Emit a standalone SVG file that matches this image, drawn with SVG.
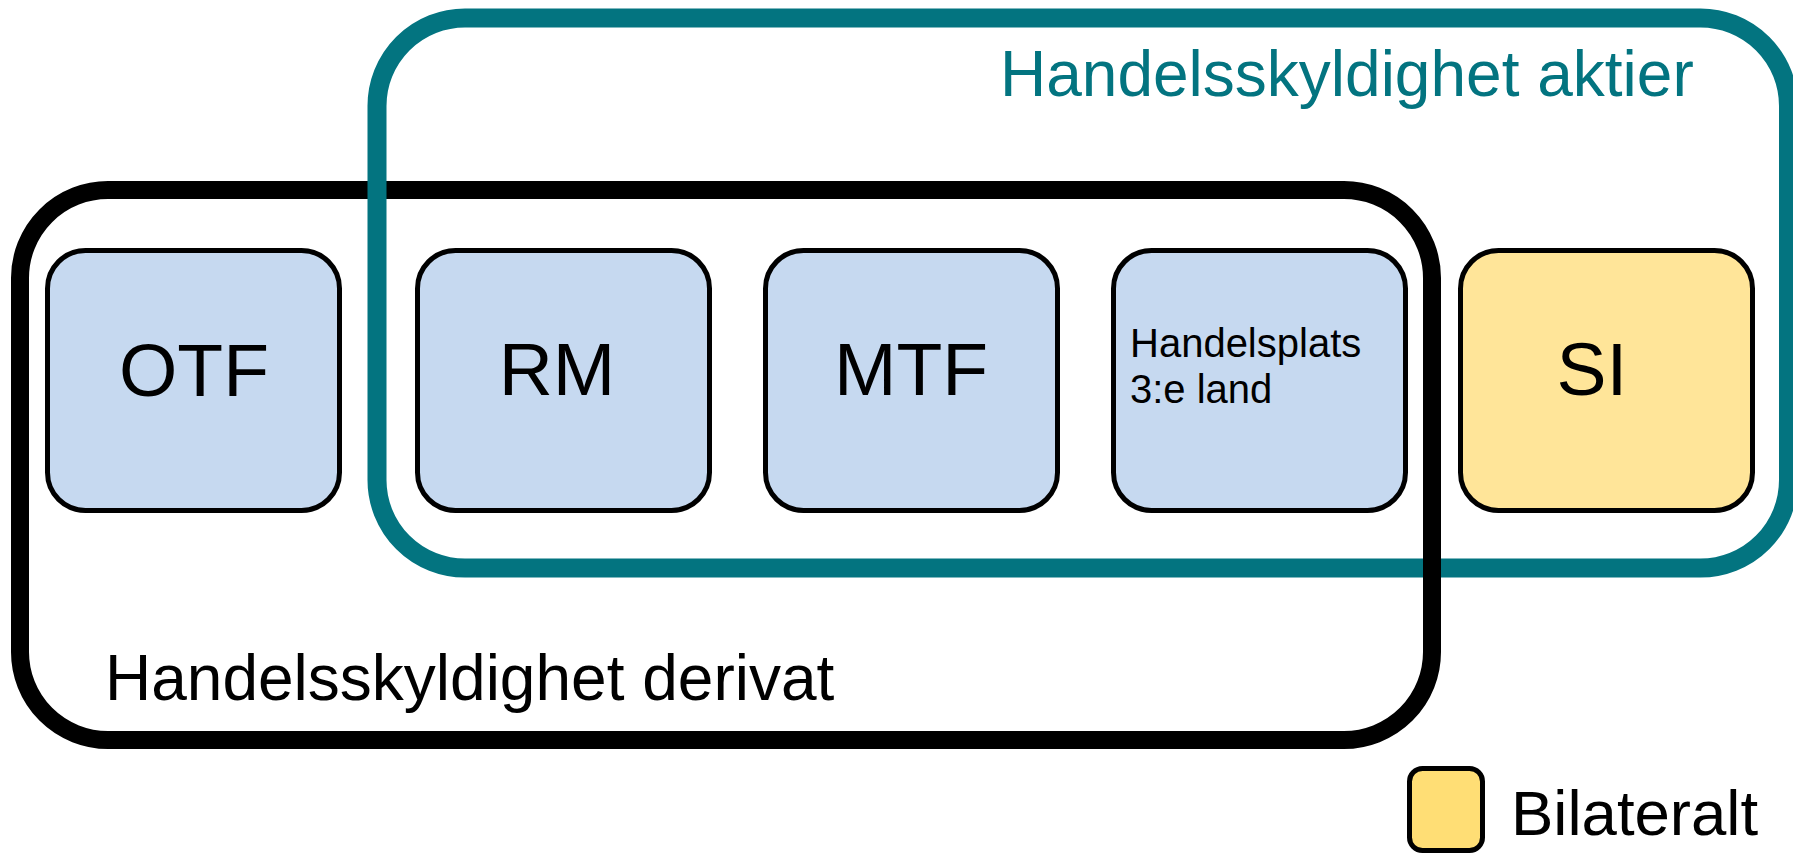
<svg xmlns="http://www.w3.org/2000/svg" width="1793" height="855" viewBox="0 0 1793 855">
  <style>
    .node rect { fill: #C6D9F0; stroke: #000; stroke-width: 5; }
    .node.bil rect { fill: #FFE599; }
    .lbl { font-family: "Liberation Sans", Arial, sans-serif; fill: #000; }
    .big { font-size: 75px; text-anchor: middle; }
    .small { font-size: 40px; }
    .group-label { font-family: "Liberation Sans", Arial, sans-serif; font-size: 64px; }
  </style>
  <rect width="1793" height="855" fill="#fff"/>
  <g id="derivat">
    <rect x="20" y="190" width="1412" height="550" rx="88" ry="88" fill="none" stroke="#000" stroke-width="18"/>
    <text class="group-label" x="105" y="700" fill="#000" font-size="63">Handelsskyldighet derivat</text>
  </g>
  <g id="aktier">
    <rect x="377" y="18" width="1411.5" height="550" rx="88" ry="88" fill="none" stroke="#037480" stroke-width="19"/>
    <text class="group-label" x="1000" y="96" fill="#037480">Handelsskyldighet aktier</text>
  </g>
  <g id="derivat-overlap">
    <line x1="1432" y1="552" x2="1432" y2="584" stroke="#000" stroke-width="18"/>
  </g>
  <g id="connectors"></g>
  <g id="OTF" class="node">
    <rect x="47.5" y="250.5" width="292" height="260" rx="38" ry="38"/>
    <text class="lbl big" x="194" y="396">OTF</text>
  </g>
  <g id="RM" class="node">
    <rect x="417.5" y="250.5" width="292" height="260" rx="38" ry="38"/>
    <text class="lbl big" x="557" y="395">RM</text>
  </g>
  <g id="MTF" class="node">
    <rect x="765.5" y="250.5" width="292" height="260" rx="38" ry="38"/>
    <text class="lbl big" x="911" y="395">MTF</text>
  </g>
  <g id="Handelsplats" class="node">
    <rect x="1113.5" y="250.5" width="292" height="260" rx="38" ry="38"/>
    <text class="lbl small" x="1130" y="357">Handelsplats</text>
    <text class="lbl small" x="1130" y="403">3:e land</text>
  </g>
  <g id="SI" class="node bil">
    <rect x="1460.5" y="250.5" width="292" height="260" rx="38" ry="38"/>
    <text class="lbl big" x="1592" y="395">SI</text>
  </g>
  <g id="legend">
    <rect x="1409.5" y="768.5" width="73" height="82" rx="13" ry="13" fill="#FFDE75" stroke="#000" stroke-width="5"/>
    <text class="lbl" x="1511" y="835" font-size="63.5">Bilateralt</text>
  </g>
</svg>
